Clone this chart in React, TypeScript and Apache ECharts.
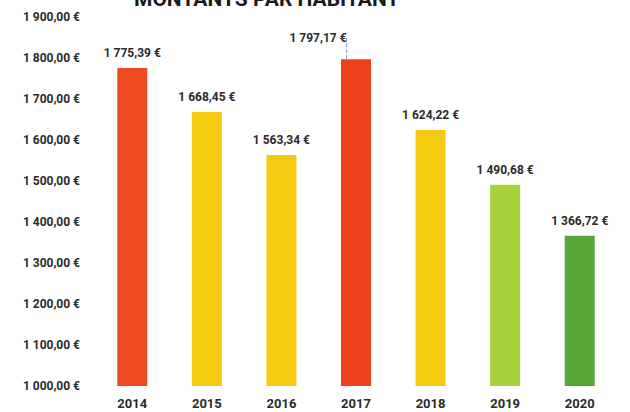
import React, { useEffect, useRef } from "react";
import * as echarts from "echarts";

const years = ["2014", "2015", "2016", "2017", "2018", "2019", "2020"];
const amounts = [1775.39, 1668.45, 1563.34, 1797.17, 1624.22, 1490.68, 1366.72];
const barColors = ["#EE4A1F", "#F4CB12", "#F4CB12", "#EE421E", "#F4CB12", "#A8D23C", "#56A737"];
const titleText = "MONTANTS PAR HABITANT";

function fmt(v: number): string {
  const fixed = v.toFixed(2);
  const [intPart, dec] = fixed.split(".");
  const withSpaces = intPart.replace(/\B(?=(\d{3})+(?!\d))/g, " ");
  return `${withSpaces},${dec} €`;
}

export default function App() {
  const ref = useRef<HTMLDivElement>(null);
  useEffect(() => {
    document.body.style.margin = "0";
    if (!ref.current) return;
    const chart = echarts.init(ref.current, undefined, { renderer: "svg" });
    const font = "Roboto";
    chart.setOption({
      animation: false,
      backgroundColor: "#ffffff",
      graphic: [
        {
          type: "text",
          left: 134,
          top: -12,
          style: {
            text: titleText,
            font: `bold 21px ${font}`,
            fill: "#1a1a1a",
          },
        },
      ],
      grid: { left: 95, right: 13, top: 17, bottom: 26 },
      xAxis: {
        type: "category",
        data: years,
        axisLine: { show: false },
        axisTick: { show: false },
        axisLabel: {
          color: "#2b2b2b",
          fontFamily: font,
          fontWeight: "bold",
          fontSize: 13,
          margin: 11,
        },
      },
      yAxis: {
        type: "value",
        min: 1000,
        max: 1900,
        interval: 100,
        splitLine: { show: false },
        axisLine: { show: false },
        axisTick: { show: false },
        axisLabel: {
          color: "#2b2b2b",
          fontFamily: font,
          fontWeight: "bold",
          fontSize: 12,
          margin: 15,
          formatter: (v: number) => fmt(v),
        },
      },
      series: [
        {
          type: "bar",
          barWidth: 30,
          data: amounts.map((v, i) => ({
            value: v,
            itemStyle: { color: barColors[i] },
            ...(i === 3
              ? {
                  labelLine: {
                    show: true,
                    lineStyle: { color: "#7f9bc8", type: "dashed", width: 1 },
                  },
                }
              : {}),
          })),
          label: {
            show: true,
            position: "top",
            distance: 9,
            color: "#2b2b2b",
            fontFamily: font,
            fontWeight: "bold",
            fontSize: 12,
            formatter: (p: any) => fmt(p.value),
          },
          labelLayout: (params: any) =>
            params.dataIndex === 3 ? { dx: -38, dy: -6 } : {},
        },
      ],
    });
    return () => chart.dispose();
  }, []);
  return <div ref={ref} style={{ width: 630, height: 412, position: "absolute", left: 0, top: 0 }} />;
}
